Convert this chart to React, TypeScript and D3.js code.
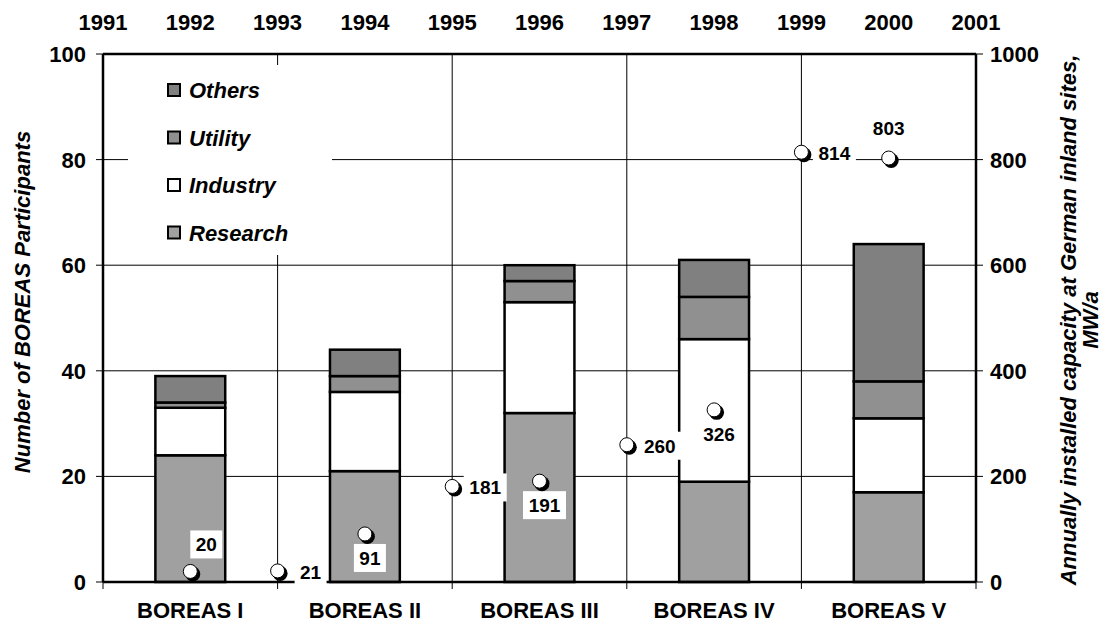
import { useMemo } from 'react';
import * as d3 from 'd3';

const categories = ['BOREAS I', 'BOREAS II', 'BOREAS III', 'BOREAS IV', 'BOREAS V'];
const seriesNames = ['Research', 'Industry', 'Utility', 'Others'];
const research = [24, 21, 32, 19, 17];
const industry = [9, 15, 21, 27, 14];
const utility = [1, 3, 4, 8, 7];
const others = [5, 5, 3, 7, 26];

const years = [1992, 1993, 1994, 1995, 1996, 1997, 1998, 1999, 2000];
const capacity = [20, 21, 91, 181, 191, 260, 326, 814, 803];
const labelPlace = ['upright', 'right', 'below', 'right', 'below', 'right', 'below', 'right', 'above'];

const yearTicks = d3.range(1991, 2002);
const leftTicks = [0, 20, 40, 60, 80, 100];
const rightTicks = [0, 200, 400, 600, 800, 1000];

const colors: Record<string, string> = {
    Research: '#a0a0a0',
    Industry: '#ffffff',
    Utility: '#909090',
    Others: '#808080',
};

const W = 1103;
const H = 626;
const M = { left: 103, right: 976, top: 54, bottom: 582 };
const FONT = '"Liberation Sans", Arial, sans-serif';

export default function App() {
    const x = d3.scaleBand<string>().domain(categories).range([M.left, M.right]).paddingInner(0.6).paddingOuter(0.3);
    const y = d3.scaleLinear().domain([0, 100]).range([M.bottom, M.top]);
    const y2 = d3.scaleLinear().domain([0, 1000]).range([M.bottom, M.top]);
    const yr = d3.scaleLinear().domain([1991, 2001]).range([M.left, M.right]);

    const stacked = useMemo(() => {
        const rows = categories.map((c, i) => ({
            cat: c, Research: research[i], Industry: industry[i], Utility: utility[i], Others: others[i],
        }));
        return d3.stack<any>().keys(seriesNames)(rows);
    }, []);

    const gridX = [1993, 1995, 1997, 1999];
    const catEdges = d3.range(categories.length + 1).map(i => M.left + i * x.step());

    const legendItems = ['Others', 'Utility', 'Industry', 'Research'];

    return (
        <svg width={W} height={H} style={{ position: 'absolute', left: 0, top: 0, fontFamily: FONT }}>
            <rect width={W} height={H} fill="#fff" />
            {/* gridlines */}
            {leftTicks.slice(1, -1).map(t => (
                <line key={'gy' + t} x1={M.left} x2={M.right} y1={y(t)} y2={y(t)} stroke="#000" strokeWidth={1} />
            ))}
            {gridX.map(t => (
                <line key={'gx' + t} x1={yr(t)} x2={yr(t)} y1={M.top} y2={M.bottom} stroke="#000" strokeWidth={1} />
            ))}
            {/* legend background */}
            <rect x={128} y={65} width={204} height={190} fill="#fff" />
            {legendItems.map((s, i) => (
                <g key={s} transform={`translate(168,${90 + i * 47.5})`}>
                    <rect x={0} y={-6} width={12} height={12} fill={colors[s]} stroke="#000" strokeWidth={2} />
                    <text x={21} y={8} fontSize={22} fontWeight="bold" fontStyle="italic">{s}</text>
                </g>
            ))}
            {/* bars */}
            {stacked.map(layer => (
                <g key={layer.key}>
                    {layer.map((d, i) => (
                        <rect key={i} x={x(categories[i])} y={y(d[1])} width={x.bandwidth()}
                            height={y(d[0]) - y(d[1])} fill={colors[layer.key]} stroke="#000" strokeWidth={2.5} />
                    ))}
                </g>
            ))}
            {/* frame */}
            <line x1={M.left} x2={M.right} y1={M.top} y2={M.top} stroke="#000" strokeWidth={2.5} />
            <line x1={M.left} x2={M.right} y1={M.bottom} y2={M.bottom} stroke="#000" strokeWidth={2.5} />
            <line x1={M.left} x2={M.left} y1={M.top} y2={M.bottom} stroke="#000" strokeWidth={2.5} />
            <line x1={M.right} x2={M.right} y1={M.top} y2={M.bottom} stroke="#000" strokeWidth={2.5} />
            {/* left ticks */}
            {leftTicks.map(t => (
                <g key={'lt' + t}>
                    <line x1={M.left - 7} x2={M.left} y1={y(t)} y2={y(t)} stroke="#000" strokeWidth={1} />
                    <text x={M.left - 17} y={y(t) + 8} fontSize={22} fontWeight="bold" textAnchor="end">{t}</text>
                </g>
            ))}
            {rightTicks.map(t => (
                <g key={'rt' + t}>
                    <line x1={M.right} x2={M.right + 7} y1={y2(t)} y2={y2(t)} stroke="#000" strokeWidth={1} />
                    <text x={M.right + 14} y={y2(t) + 8} fontSize={22} fontWeight="bold">{t}</text>
                </g>
            ))}
            {/* bottom ticks at category edges */}
            {catEdges.map((e, i) => (
                <line key={'bt' + i} x1={e} x2={e} y1={M.bottom} y2={M.bottom + 7} stroke="#000" strokeWidth={1} />
            ))}
            {categories.map(c => (
                <text key={c} x={(x(c) ?? 0) + x.bandwidth() / 2} y={618} fontSize={22} fontWeight="bold" textAnchor="middle">{c}</text>
            ))}
            {/* top year axis */}
            {yearTicks.map(t => (
                <text key={'yr' + t} x={yr(t)} y={30} fontSize={22} fontWeight="bold" textAnchor="middle">{t}</text>
            ))}
            {/* capacity markers */}
            {years.map((yy, i) => {
                const cx = yr(yy);
                const cy = y2(capacity[i]);
                const p = labelPlace[i];
                let lx = cx, ly = cy;
                if (p === 'right') { lx = cx + 33; ly = cy + 1; }
                else if (p === 'below') { lx = cx + 5; ly = cy + 24; }
                else if (p === 'above') { lx = cx; ly = cy - 30; }
                else if (p === 'upright') { lx = cx + 16; ly = cy - 27; }
                const label = String(capacity[i]);
                const bw = label.length * 11 + 10;
                return (
                    <g key={'m' + yy}>
                        <rect x={lx - bw / 2} y={ly - 14} width={bw} height={28} fill="#fff" />
                        <text x={lx} y={ly + 7} fontSize={19} fontWeight="bold" textAnchor="middle">{label}</text>
                        <circle cx={cx + 2.5} cy={cy + 2.5} r={7.5} fill="#000" />
                        <circle cx={cx} cy={cy} r={7} fill="#fff" stroke="#000" strokeWidth={1} />
                    </g>
                );
            })}
            {/* axis titles */}
            <text transform={`translate(30,302) rotate(-90)`} textAnchor="middle"
                fontSize={22} fontWeight="bold" fontStyle="italic">Number of BOREAS Participants</text>
            <text transform={`translate(1076,320) rotate(-90)`} textAnchor="middle"
                fontSize={22} fontWeight="bold" fontStyle="italic">
                <tspan x={0} dy={0}>Annually installed capacity at German inland sites,</tspan>
                <tspan x={0} dy={22}>MW/a</tspan>
            </text>
        </svg>
    );
}
